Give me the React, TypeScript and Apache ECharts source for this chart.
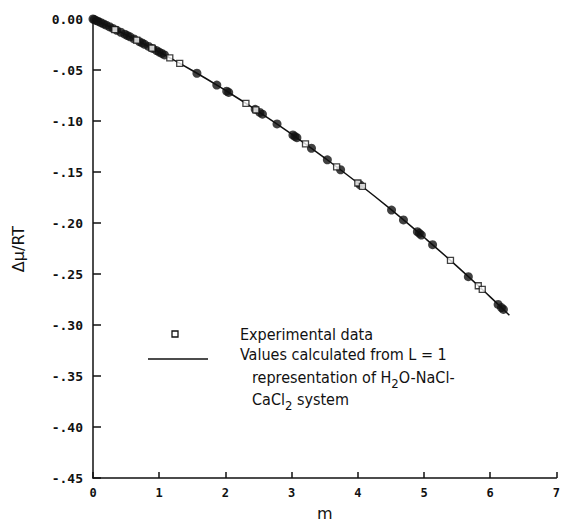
import React, { useEffect, useRef } from "react";
import * as echarts from "echarts";

// Calculated curve (L = 1 representation)
const curveM = [0, 0.5, 1.0, 1.5, 2.0, 2.5, 3.0, 3.5, 4.0, 4.5, 5.0, 5.5, 6.0, 6.29];
const curveY = [0, -0.0155, -0.0324, -0.0505, -0.07, -0.0907, -0.1128, -0.1362, -0.1608, -0.1867, -0.214, -0.2425, -0.2724, -0.2904];

// Experimental data (filled / overlapping markers)
const filledM = [0, 0.02, 0.05, 0.08, 0.12, 0.16, 0.2, 0.25, 0.3, 0.36, 0.42, 0.48, 0.52, 0.56, 0.62, 0.7, 0.74, 0.78, 0.84, 0.9, 0.96, 1.0, 1.04, 1.08, 1.57, 1.87, 2.02, 2.05, 2.45, 2.52, 2.56, 2.78, 3.02, 3.05, 3.08, 3.3, 3.54, 3.74, 4.03, 4.51, 4.69, 4.9, 4.93, 4.96, 5.13, 5.67, 6.12, 6.17, 6.2];
const filledY = [0, -0.0006, -0.0015, -0.0024, -0.0036, -0.0048, -0.0061, -0.0076, -0.0092, -0.0111, -0.013, -0.0149, -0.0162, -0.0175, -0.0195, -0.0221, -0.0235, -0.0248, -0.0269, -0.0289, -0.031, -0.0324, -0.0338, -0.0352, -0.0532, -0.0648, -0.0708, -0.072, -0.0886, -0.0916, -0.0933, -0.1029, -0.1137, -0.1151, -0.1164, -0.1267, -0.1381, -0.1478, -0.1623, -0.1873, -0.197, -0.2085, -0.2101, -0.2118, -0.2213, -0.2526, -0.2798, -0.2829, -0.2847];

// Experimental data (open squares)
const openM = [0.33, 0.66, 0.89, 1.16, 1.31, 2.31, 2.46, 3.21, 3.68, 4.0, 4.07, 5.4, 5.82, 5.88];
const openY = [-0.0105, -0.0208, -0.0286, -0.0381, -0.0435, -0.0827, -0.0891, -0.1225, -0.1449, -0.1608, -0.164, -0.2367, -0.2615, -0.2651];

const xTicks = [0, 1, 2, 3, 4, 5, 6, 7];

const legendLines = [
  "Experimental data",
  "Values calculated from L = 1",
];

function fmtY(v: number): string {
  if (v === 0) return "0.00";
  const s = Math.abs(v).toFixed(2).slice(1);
  return (v < 0 ? "-" : "") + s;
}

export default function App() {
  const ref = useRef<HTMLDivElement>(null);
  useEffect(() => {
    if (!ref.current) return;
    const chart = echarts.init(ref.current, null, { renderer: "svg" });
    const curve = curveM.map((m, i) => [m, curveY[i]]);
    const filled = filledM.map((m, i) => [m, filledY[i]]);
    const open = openM.map((m, i) => [m, openY[i]]);
    const legendFont = "'Liberation Sans Narrow', 'DejaVu Sans Condensed', Roboto, sans-serif";
    const txt = "#111";
    const rich = {
      n: { fontFamily: legendFont, fontSize: 16, fill: txt, lineHeight: 20 },
      s: { fontFamily: legendFont, fontSize: 13, fill: txt, lineHeight: 20, padding: [12, 0, 0, 0] },
    };
    chart.setOption({
      animation: false,
      backgroundColor: "#fff",
      grid: { left: 93, top: 19, right: 6, bottom: 41, containLabel: false },
      xAxis: {
        type: "value",
        min: xTicks[0],
        max: xTicks[xTicks.length - 1],
        interval: 1,
        name: "m",
        nameLocation: "middle",
        nameGap: 27,
        nameTextStyle: { fontFamily: "'DejaVu Sans', sans-serif", fontSize: 16, color: txt },
        axisLine: { onZero: false, lineStyle: { color: "#111", width: 1.5 } },
        axisTick: { inside: true, length: 6, lineStyle: { color: "#111", width: 1.5 } },
        axisLabel: {
          margin: 9,
          fontFamily: "'DejaVu Sans Mono', monospace",
          fontWeight: "bold",
          fontSize: 12,
          color: txt,
        },
        splitLine: { show: false },
      },
      yAxis: {
        type: "value",
        min: -0.45,
        max: 0,
        interval: 0.05,
        axisLine: { show: true, onZero: false, lineStyle: { color: "#111", width: 1.5 } },
        axisTick: { inside: true, length: 8, lineStyle: { color: "#111", width: 1.5 } },
        axisLabel: {
          margin: 10,
          formatter: fmtY,
          fontFamily: "'DejaVu Sans Mono', monospace",
          fontWeight: "bold",
          fontSize: 13,
          color: txt,
        },
        splitLine: { show: false },
      },
      series: [
        {
          type: "line",
          data: curve,
          smooth: true,
          showSymbol: false,
          symbol: "none",
          lineStyle: { color: "#111", width: 1.5 },
          z: 2,
        },
        {
          type: "scatter",
          data: filled,
          symbol: "circle",
          symbolSize: 9,
          itemStyle: { color: "#111" },
          z: 3,
        },
        {
          type: "scatter",
          data: open,
          symbol: "rect",
          symbolSize: 6,
          itemStyle: { color: "#fff", borderColor: "#111", borderWidth: 1.3 },
          z: 4,
        },
      ],
      graphic: [
        {
          type: "text",
          x: 18,
          y: 249,
          rotation: Math.PI / 2,
          style: {
            text: "Δμ/RT",
            fontFamily: "'DejaVu Sans', sans-serif",
            fontSize: 16,
            fill: txt,
            align: "center",
            verticalAlign: "middle",
          },
        },
        {
          type: "rect",
          shape: { x: 172, y: 331, width: 6, height: 6 },
          style: { fill: "#fff", stroke: "#111", lineWidth: 1.3 },
        },
        {
          type: "line",
          shape: { x1: 148, y1: 359, x2: 208, y2: 359 },
          style: { stroke: "#111", lineWidth: 1.5 },
        },
        {
          type: "text",
          x: 240,
          y: 334,
          style: { text: legendLines[0], fontFamily: legendFont, fontSize: 16, fill: txt, verticalAlign: "middle" },
        },
        {
          type: "text",
          x: 240,
          y: 354,
          style: { text: legendLines[1], fontFamily: legendFont, fontSize: 16, fill: txt, verticalAlign: "middle" },
        },
        {
          type: "text",
          x: 252,
          y: 377,
          style: { text: "{n|representation of H}{s|2}{n|O-NaCl-}", verticalAlign: "middle", rich },
        },
        {
          type: "text",
          x: 252,
          y: 399,
          style: { text: "{n|CaCl}{s|2}{n| system}", verticalAlign: "middle", rich },
        },
      ],
    });
    return () => chart.dispose();
  }, []);
  return (
    <div
      ref={ref}
      style={{ position: "fixed", left: 0, top: 0, width: 563, height: 526 }}
    />
  );
}
